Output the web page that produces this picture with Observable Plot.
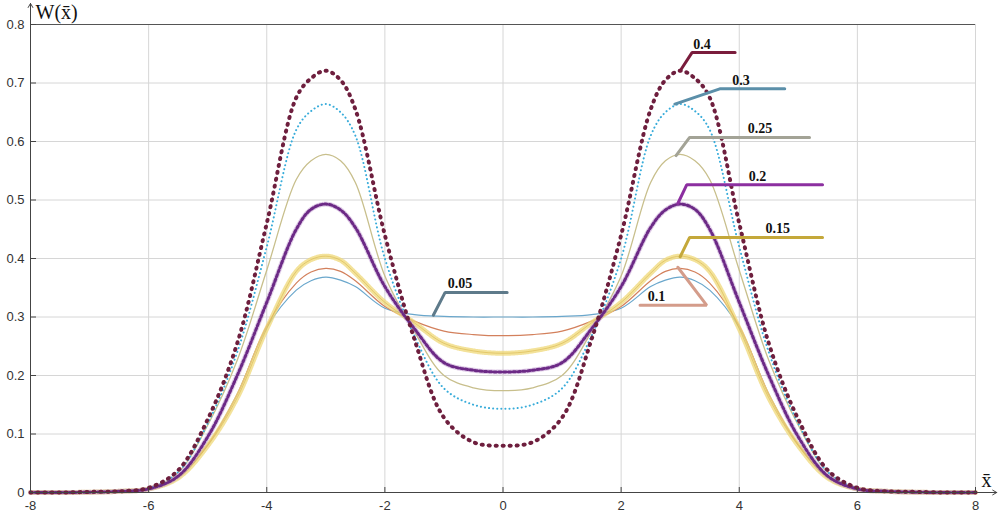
<!DOCTYPE html>
<html>
<head>
<meta charset="utf-8">
<script src="https://cdn.jsdelivr.net/npm/d3@7"></script>
<script src="https://cdn.jsdelivr.net/npm/@observablehq/plot@0.6"></script>
<style>
  html, body { margin: 0; padding: 0; background: #fff; }
</style>
</head>
<body>
<div id="chart"></div>
<script>
// ---- data ----
const xs = [-8,-7.5,-7,-6.5,-6,-5.5,-5,-4.5,-4,-3.5,-3.25,-3,-2.75,-2.5,-2,-1.5,-1,-0.5,0,0.5,1,1.5,2,2.5,2.75,3,3.25,3.5,4,4.5,5,5.5,6,6.5,7,7.5,8];

const w005 = [0,0,0.0005,0.002,0.006,0.026,0.082,0.168,0.282,0.346,0.362,0.368,0.363,0.352,0.315,0.304,0.301,0.300,0.300,0.300,0.301,0.304,0.315,0.352,0.363,0.368,0.362,0.346,0.282,0.168,0.082,0.026,0.006,0.002,0.0005,0,0];
const w01  = [0,0,0.0005,0.002,0.006,0.026,0.082,0.168,0.285,0.358,0.377,0.383,0.378,0.362,0.318,0.293,0.276,0.270,0.268,0.270,0.276,0.293,0.318,0.362,0.378,0.383,0.377,0.358,0.285,0.168,0.082,0.026,0.006,0.002,0.0005,0,0];
const w015 = [0,0,0.0005,0.002,0.006,0.025,0.080,0.162,0.280,0.378,0.398,0.404,0.397,0.375,0.325,0.290,0.255,0.242,0.238,0.242,0.255,0.290,0.325,0.375,0.397,0.404,0.398,0.378,0.280,0.162,0.080,0.025,0.006,0.002,0.0005,0,0];
const w02  = [0,0,0.0005,0.002,0.006,0.028,0.095,0.200,0.325,0.450,0.484,0.493,0.483,0.453,0.352,0.280,0.222,0.209,0.206,0.209,0.222,0.280,0.352,0.453,0.483,0.493,0.484,0.450,0.325,0.200,0.095,0.028,0.006,0.002,0.0005,0,0];
const w025 = [0,0,0.0005,0.002,0.007,0.034,0.115,0.226,0.380,0.535,0.567,0.578,0.567,0.530,0.370,0.275,0.200,0.179,0.174,0.179,0.200,0.275,0.370,0.530,0.567,0.578,0.567,0.535,0.380,0.226,0.115,0.034,0.007,0.002,0.0005,0,0];
const w03  = [0,0,0.0005,0.002,0.007,0.035,0.118,0.240,0.420,0.620,0.652,0.664,0.650,0.610,0.400,0.268,0.178,0.150,0.143,0.150,0.178,0.268,0.400,0.610,0.650,0.664,0.652,0.620,0.420,0.240,0.118,0.035,0.007,0.002,0.0005,0,0];
const w04  = [0,0,0.001,0.002,0.008,0.038,0.125,0.255,0.460,0.675,0.708,0.721,0.705,0.655,0.440,0.262,0.128,0.086,0.080,0.086,0.128,0.262,0.440,0.655,0.705,0.721,0.708,0.675,0.460,0.255,0.125,0.038,0.008,0.002,0.001,0,0];

const xTicks = [-8,-6,-4,-2,0,2,4,6,8];
const yTicks = [0,0.1,0.2,0.3,0.4,0.5,0.6,0.7,0.8];

// callout annotations (data units)
const calloutLabels = ["0.4","0.3","0.25","0.2","0.15","0.1","0.05"];
const calloutAnchorX = [3.0, 2.91, 2.93, 2.96, 3.0, 2.96, -1.18];
const calloutAnchorY = [0.721, 0.664, 0.576, 0.494, 0.403, 0.385, 0.303];
const calloutElbowX  = [3.2, 3.67, 3.16, 3.11, 3.16, 3.45, -0.98];
const calloutElbowY  = [0.752, 0.69, 0.607, 0.526, 0.436, 0.32, 0.342];
const calloutEndX    = [3.93, 4.77, 5.19, 5.41, 5.41, 2.32, 0.07];
const calloutTextX   = [3.37, 4.03, 4.35, 4.31, 4.65, 2.6, -0.73];

// ---- build tables ----
const series = {"0.05": w005, "0.1": w01, "0.15": w015, "0.2": w02, "0.25": w025, "0.3": w03, "0.4": w04};
const pts = name => xs.map((x, i) => ({x, y: series[name][i]}));

const calloutColor = {"0.4":"#7a1c3c","0.3":"#5b8fa9","0.25":"#a3a396","0.2":"#8c2fa0","0.15":"#c4a83a","0.1":"#d49c8a","0.05":"#5e7a8a"};
const calloutPath = calloutLabels.flatMap((lab, i) => [
  {lab, x: calloutAnchorX[i], y: calloutAnchorY[i]},
  {lab, x: calloutElbowX[i], y: calloutElbowY[i]},
  {lab, x: calloutEndX[i], y: calloutElbowY[i]}
]);
const calloutText = calloutLabels.map((lab, i) => ({lab, x: calloutTextX[i], y: calloutElbowY[i]}));

const C = {curve: "catmull-rom", x: "x", y: "y"};

const chart = Plot.plot({
  width: 1002,
  height: 516,
  marginLeft: 30,
  marginRight: 27,
  marginTop: 24,
  marginBottom: 24,
  x: {domain: [-8, 8]},
  y: {domain: [0, 0.8]},
  style: {fontFamily: "'Liberation Sans', Arial, sans-serif", fontSize: "13px", color: "#333", background: "#fff", overflow: "visible"},
  marks: [
    Plot.gridX(xTicks, {stroke: "#d6d6d6", strokeOpacity: 1}),
    Plot.gridY(yTicks, {stroke: "#d6d6d6", strokeOpacity: 1}),
    Plot.ruleY([0.8], {stroke: "#555", strokeWidth: 1}),

    // 0.05 : thin blue line
    Plot.line(pts("0.05"), {...C, stroke: "#6aa7cc", strokeWidth: 1.2}),
    // 0.1 : thin orange line
    Plot.line(pts("0.1"), {...C, stroke: "#d3805c", strokeWidth: 1.2}),
    // 0.25 : thin khaki line
    Plot.line(pts("0.25"), {...C, stroke: "#c8bf8c", strokeWidth: 1.3}),
    // 0.15 : dense yellow markers
    Plot.line(pts("0.15"), {...C, stroke: "#efd878", strokeWidth: 5, strokeDasharray: "1 1.2", strokeOpacity: 0.75}),
    Plot.line(pts("0.15"), {...C, stroke: "#d9b84a", strokeWidth: 1, strokeOpacity: 0.6}),
    // 0.3 : cyan dots
    Plot.line(pts("0.3"), {...C, stroke: "#38acda", strokeWidth: 2, strokeDasharray: "0.1 4", strokeLinecap: "round"}),
    // 0.2 : purple asterisks
    Plot.line(pts("0.2"), {...C, stroke: "#b58ac8", strokeWidth: 5, strokeDasharray: "1.2 1.6", strokeOpacity: 0.45}),
    Plot.line(pts("0.2"), {...C, stroke: "#6c2a86", strokeWidth: 3, strokeDasharray: "2.4 2.4"}),
    // 0.4 : maroon plus markers
    Plot.line(pts("0.4"), {...C, stroke: "#6e1f3e", strokeWidth: 4, strokeDasharray: "0.9 6.1"}),
    Plot.line(pts("0.4"), {...C, stroke: "#6e1f3e", strokeWidth: 0.9, strokeDasharray: "4 3", strokeDashoffset: 1.55}),

    // callouts
    Plot.line(calloutPath, {x: "x", y: "y", z: "lab", stroke: d => calloutColor[d.lab], strokeWidth: 3, strokeLinejoin: "miter"}),
    Plot.text(calloutText, {x: "x", y: "y", text: "lab", lineAnchor: "bottom", dy: -4, fill: "#111",
      fontFamily: "'Liberation Serif', 'Times New Roman', serif", fontWeight: "bold", fontSize: 14}),

    // axes
    Plot.axisY(yTicks, {tickSize: 0, tickPadding: 6, label: null, tickFormat: d => d === 0 ? "0" : d.toFixed(1), fill: "#333"}),
    Plot.axisY(yTicks, {tickSize: 6, text: null, label: null, dx: 6, stroke: "#444"}),
    Plot.axisX(xTicks, {tickSize: 0, tickPadding: 8, label: null, tickFormat: d => String(d), fill: "#333"}),
    Plot.axisX(xTicks, {tickSize: 5, text: null, label: null, dy: -5, stroke: "#444"}),
    Plot.arrow([{x1: -8, y1: 0, x2: 8.36, y2: 0}], {x1: "x1", y1: "y1", x2: "x2", y2: "y2", stroke: "#444", strokeWidth: 1, headLength: 7, bend: 0}),
    Plot.arrow([{x1: -8, y1: 0, x2: -8, y2: 0.836}], {x1: "x1", y1: "y1", x2: "x2", y2: "y2", stroke: "#444", strokeWidth: 1, headLength: 7, bend: 0}),
    Plot.text(["W(x\u0304)"], {frameAnchor: "top-left", dx: 5, dy: -12, lineAnchor: "middle", textAnchor: "start",
      fontFamily: "'Liberation Serif', 'Times New Roman', serif", fontSize: 20, fill: "#111"}),
    Plot.text(["x\u0304"], {frameAnchor: "bottom-right", dx: 11, dy: -12, lineAnchor: "middle", textAnchor: "middle",
      fontFamily: "'Liberation Serif', 'Times New Roman', serif", fontSize: 20, fill: "#111"})
  ]
});
document.getElementById("chart").appendChild(chart);
</script>
</body>
</html>
